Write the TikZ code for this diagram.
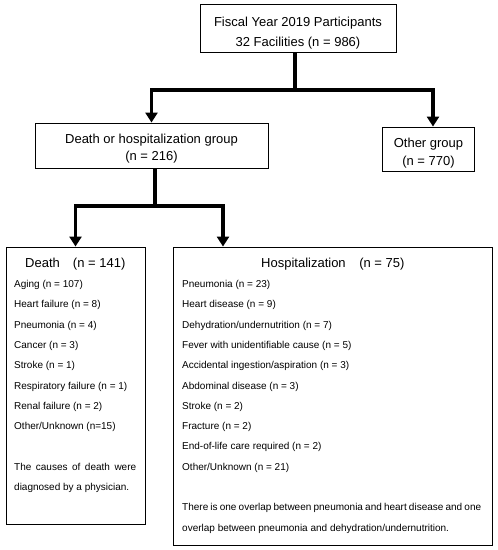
\documentclass[tikz,border=0pt]{standalone}
\usepackage{fontspec}
\setmainfont{Liberation Sans}
\usetikzlibrary{arrows.meta}
\begin{document}
\begin{tikzpicture}[x=1pt,y=-1pt,
  box/.style={draw, line width=0.9pt, inner sep=0pt},
  big/.style={font=\fontsize{13}{16}\selectfont, inner sep=0pt, anchor=base},
  item/.style={font=\fontsize{10}{12}\selectfont, inner sep=0pt, anchor=base west},
  trunk/.style={line width=3.5pt},
  arr/.style={line width=3.5pt, -{Triangle[width=12pt,length=10pt]}}]
\useasboundingbox (0,0) rectangle (498,550);
% boxes
\node[box, minimum width=196pt, minimum height=48pt] (top) at (298,28) {};
\node[box, minimum width=233pt, minimum height=45pt] (dh) at (151.5,145.5) {};
\node[box, minimum width=92pt, minimum height=44pt] (other) at (428,149) {};
\node[box, minimum width=139pt, minimum height=277pt] (death) at (75.5,385.5) {};
\node[box, minimum width=319pt, minimum height=298pt] (hosp) at (332.5,396) {};
% texts
\node[big] (t1) at (298,26) {Fiscal Year 2019 Participants};
\node[big] (t2) at (298,46.5) {32 Facilities (n = 986)};
\node[big] (dh1) at (151.5,143) {Death or hospitalization group};
\node[big] (dh2) at (151.5,160.5) {(n = 216)};
\node[big] (o1) at (428.5,147) {Other group};
\node[big] (o2) at (428.5,165) {(n = 770)};
\node[big, anchor=base west] (dt) at (25,267) {Death\hspace{9.5pt} (n = 141)};
\node[big, anchor=base west] (ht) at (261,267) {Hospitalization\hspace{10pt} (n = 75)};
\foreach [count=\i] \txt in {Aging (n = 107), Heart failure (n = 8), Pneumonia (n = 4), Cancer (n = 3), Stroke (n = 1), Respiratory failure (n = 1), Renal failure (n = 2), Other/Unknown (n=15)}
  \node[item] (d\i) at (14,{287.5+20.3*(\i-1)}) {\txt};
\foreach [count=\i] \txt in {Pneumonia (n = 23), Heart disease (n = 9), Dehydration/undernutrition (n = 7), Fever with unidentifiable cause (n = 5), Accidental ingestion/aspiration (n = 3), Abdominal disease (n = 3), Stroke (n = 2), Fracture (n = 2), End-of-life care required (n = 2), Other/Unknown (n = 21)}
  \node[item] (h\i) at (182,{287.5+20.3*(\i-1)}) {\txt};
\node[item] (dn1) at (14,470.2) {\makebox[122pt][s]{The causes of death were}};
\node[item] (dn2) at (14,490.5) {diagnosed by a physician.};
\node[item] (hn1) at (182,510.8) {\makebox[299pt][s]{There is one overlap between pneumonia and heart disease and one}};
\node[item] (hn2) at (182,531.1) {overlap between pneumonia and dehydration/undernutrition.};
% connectors
\coordinate (s1) at (295,90);
\draw[trunk] ([xshift=-3pt]top.south) -- (s1);
\draw[arr] (s1) -| (dh.north);
\draw[arr] (s1) -| ([xshift=5pt]other.north);
\coordinate (s2) at (155,206);
\draw[trunk] ([xshift=3.5pt]dh.south) -- (s2);
\draw[arr] (s2) -| (death.north);
\draw[arr] (s2) -| ([xshift=-109.5pt]hosp.north);
\end{tikzpicture}
\end{document}
